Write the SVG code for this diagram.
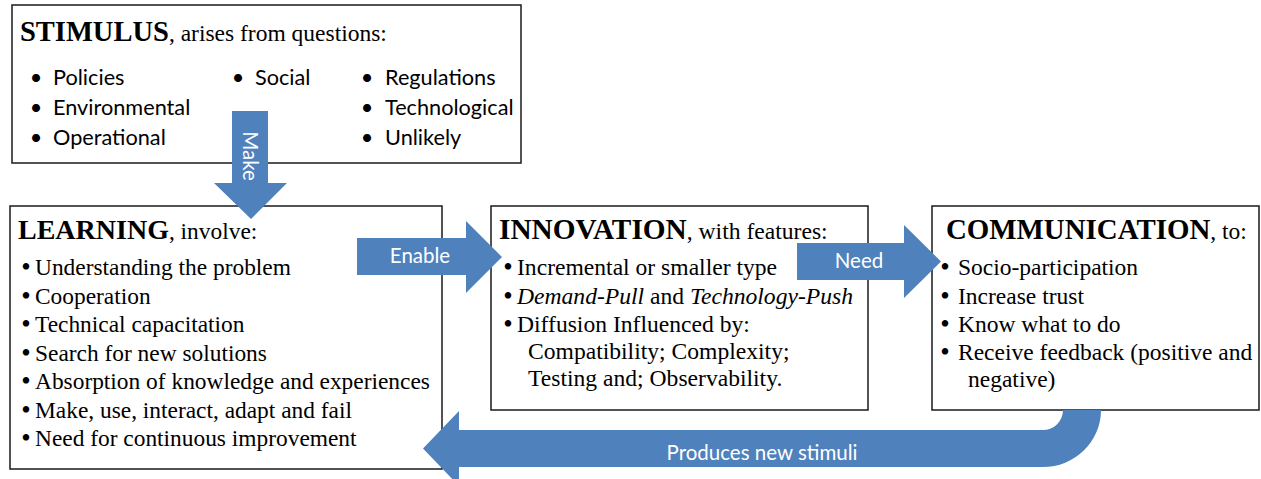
<svg xmlns="http://www.w3.org/2000/svg" width="1261" height="479" viewBox="0 0 1261 479">
<style>
.box{fill:#fff;stroke:#1a1a1a;stroke-width:1.5}
.arrow{fill:#4F81BD}
.bm{text-anchor:middle}
</style>
<g id="stimulus">
<rect class="box" x="12" y="5" width="509" height="158"/>
<text x="20" y="41" font-family="'Liberation Serif', serif" font-size="23.5" fill="#000"><tspan font-weight="bold" font-size="28.5">STIMULUS</tspan>, arises from questions:</text>
<g font-family="Lato, 'Open Sans', sans-serif" font-size="21.7" fill="#000">
<text x="36" y="85" class="bm">•</text><text x="53" y="85">Policies</text>
<text x="36" y="115" class="bm">•</text><text x="53" y="115">Environmental</text>
<text x="36" y="145" class="bm">•</text><text x="53" y="145">Operational</text>
<text x="238" y="85" class="bm">•</text><text x="255" y="85">Social</text>
<text x="367" y="85" class="bm">•</text><text x="385" y="85">Regulations</text>
<text x="367" y="115" class="bm">•</text><text x="385" y="115">Technological</text>
<text x="367" y="145" class="bm">•</text><text x="385" y="145">Unlikely</text>
</g>
</g>
<g id="learning" font-family="'Liberation Serif', serif" font-size="23.4" fill="#000">
<rect class="box" x="10" y="206" width="432" height="263"/>
<text x="18" y="239"><tspan font-weight="bold" font-size="28">LEARNING</tspan>, involve:</text>
<g font-size="27" class="bm">
<text x="26" y="276">•</text><text x="26" y="304.5">•</text><text x="26" y="333">•</text><text x="26" y="361.5">•</text><text x="26" y="390">•</text><text x="26" y="418.5">•</text><text x="26" y="447">•</text>
</g>
<text x="35" y="275">Understanding the problem</text>
<text x="35" y="303.5">Cooperation</text>
<text x="35" y="332">Technical capacitation</text>
<text x="35" y="360.5">Search for new solutions</text>
<text x="35" y="389">Absorption of knowledge and experiences</text>
<text x="35" y="417.5">Make, use, interact, adapt and fail</text>
<text x="35" y="446">Need for continuous improvement</text>
</g>
<g id="innovation" font-family="'Liberation Serif', serif" font-size="23.6" fill="#000">
<rect class="box" x="491" y="206" width="377" height="204"/>
<text x="499" y="239"><tspan font-weight="bold" font-size="29.3">INNOVATION</tspan>, with features:</text>
<g font-size="27" class="bm">
<text x="508" y="276">•</text><text x="508" y="305">•</text><text x="508" y="333">•</text>
</g>
<text x="517" y="275">Incremental or smaller type</text>
<text x="517" y="304"><tspan font-style="italic">Demand-Pull</tspan> and <tspan font-style="italic">Technology-Push</tspan></text>
<text x="517" y="332">Diffusion Influenced by:</text>
<text x="528" y="359">Compatibility; Complexity;</text>
<text x="528" y="386">Testing and; Observability.</text>
</g>
<g id="communication" font-family="'Liberation Serif', serif" font-size="23.5" fill="#000">
<rect class="box" x="932" y="206" width="327" height="204"/>
<text x="946" y="239"><tspan font-weight="bold" font-size="28.9">COMMUNICATION</tspan>, to:</text>
<g font-size="27" class="bm">
<text x="945" y="276">•</text><text x="945" y="305">•</text><text x="945" y="333">•</text><text x="945" y="361">•</text>
</g>
<text x="958" y="275">Socio-participation</text>
<text x="958" y="304">Increase trust</text>
<text x="958" y="332">Know what to do</text>
<text x="958" y="360">Receive feedback (positive and</text>
<text x="968" y="387">negative)</text>
</g>
<g id="connectors" font-family="Lato, 'Open Sans', sans-serif" font-size="20.5" fill="#fff">
<path class="arrow" d="M232 111 H268 V183 H287 L251 219 L214 183 H232 Z"/>
<text class="bm" transform="translate(250 156) rotate(90)" dy="7">Make</text>
<path class="arrow" d="M357 238 H466 V221 L502 257 L466 293 V275 H357 Z"/>
<text class="bm" x="420" y="263">Enable</text>
<path class="arrow" d="M797 243 H904 V225 L941 261.5 L904 298 V280 H797 Z"/>
<text class="bm" x="859" y="268">Need</text>
<path class="arrow" d="M1063 410 H1101 A58 57 0 0 1 1043 467 H459 V486 L423 448.5 L459 411 V430 H1043 A20 20 0 0 0 1063 410 Z"/>
<text class="bm" x="762" y="460">Produces new stimuli</text>
</g>
</svg>
